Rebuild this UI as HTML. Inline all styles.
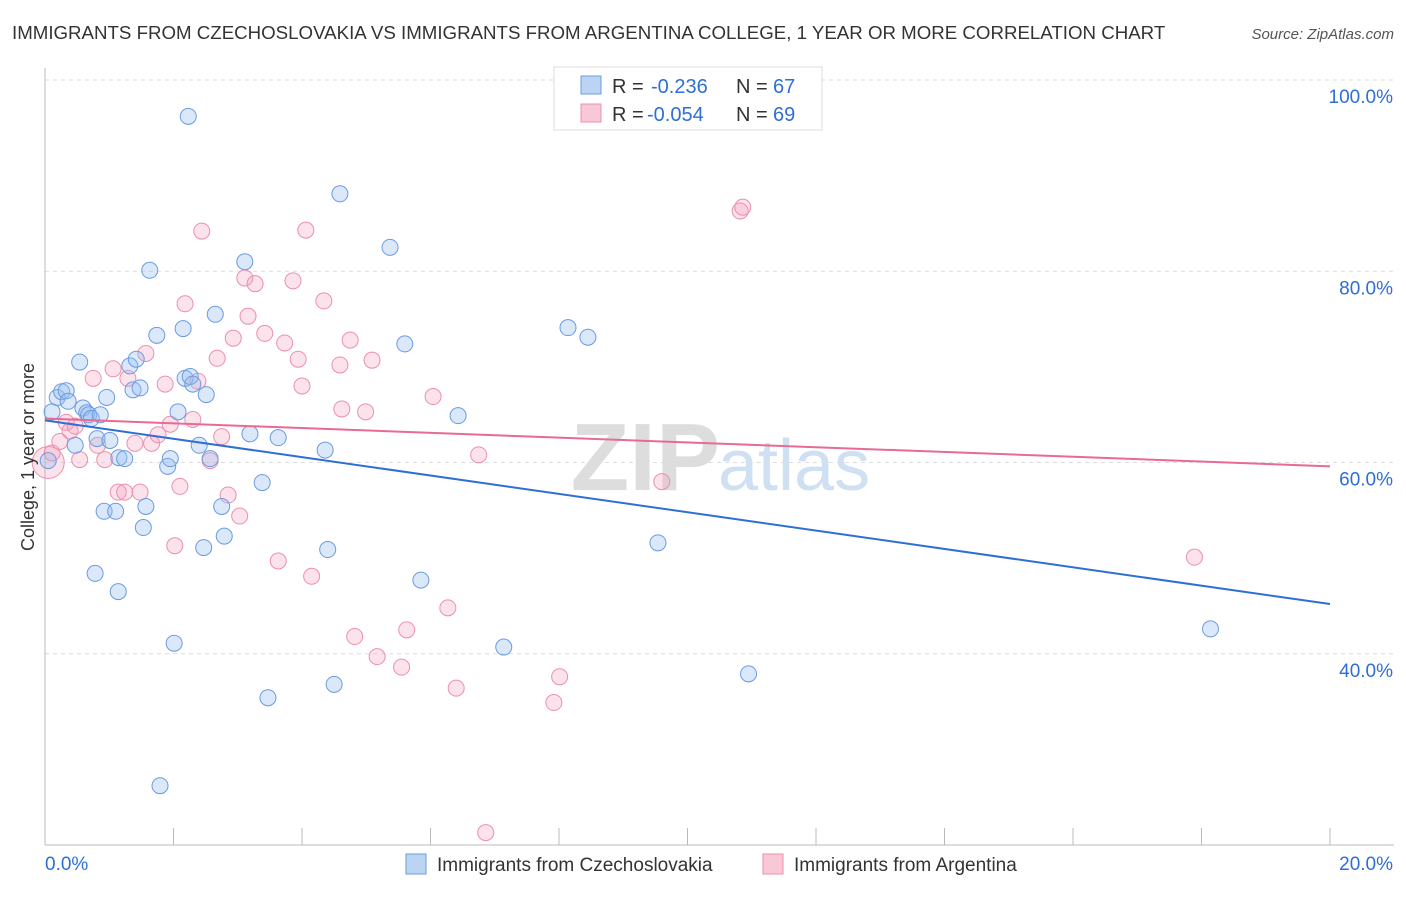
<!DOCTYPE html>
<html><head><meta charset="utf-8"><style>
body{margin:0;background:#fff;font-family:"Liberation Sans",sans-serif;}
svg text{font-family:"Liberation Sans",sans-serif;}
</style></head><body>
<svg id="c" width="1406" height="892">
<text x="12" y="39" font-size="18.7" fill="#333">IMMIGRANTS FROM CZECHOSLOVAKIA VS IMMIGRANTS FROM ARGENTINA COLLEGE, 1 YEAR OR MORE CORRELATION CHART</text>
<text x="1394" y="39" font-size="15" fill="#555" text-anchor="end" font-style="italic">Source: ZipAtlas.com</text>
<g id="grid"></g>
<text x="720" y="490" font-size="96" fill="#ddd" text-anchor="end" font-family="Liberation Serif" font-weight="bold">ZIP</text>
<text x="718" y="490" font-size="72" fill="#cfe0f3">atlas</text>
<g id="pts"></g>
<g id="lines"></g>
<text transform="translate(34,457) rotate(-90)" font-size="18" fill="#333" text-anchor="middle">College, 1 year or more</text>
<g>
<rect x="554" y="67" width="268" height="63" fill="#fff" stroke="#ddd"/>
<rect x="581" y="76" width="20" height="18" fill="#bcd4f3" stroke="#6a9be0"/>
<rect x="581" y="104" width="20" height="18" fill="#f9c8d7" stroke="#ec8fae"/>
<text x="612" y="93" font-size="20" fill="#333">R =</text>
<text x="651" y="93" font-size="20" fill="#2e6fd6">-0.236</text>
<text x="736" y="93" font-size="20" fill="#333">N =</text>
<text x="773" y="93" font-size="20" fill="#2e6fd6">67</text>
<text x="612" y="121" font-size="20" fill="#333">R =</text>
<text x="647" y="121" font-size="20" fill="#2e6fd6">-0.054</text>
<text x="736" y="121" font-size="20" fill="#333">N =</text>
<text x="773" y="121" font-size="20" fill="#2e6fd6">69</text>
</g>
<g>
<rect x="406" y="854" width="20" height="20" fill="#bcd4f3" stroke="#6a9be0"/>
<text x="437" y="871" font-size="19" fill="#333">Immigrants from Czechoslovakia</text>
<rect x="763" y="854" width="20" height="20" fill="#f9c8d7" stroke="#ec8fae"/>
<text x="794" y="871" font-size="19" fill="#333">Immigrants from Argentina</text>
</g>
</svg>
<script>
const xTicks=[0,20];
const yTicks=[40,60,80,100];
const blueX=[0.11,0.19,0.26,0.33,0.36,0.47,0.54,0.59,0.65,0.68,0.72,0.81,0.86,0.92,0.96,1.01,1.1,1.15,1.24,0.78,1.14,1.32,1.37,1.42,1.48,1.53,1.57,1.63,1.74,1.91,1.95,2.01,2.07,2.15,2.18,2.23,2.26,2.3,2.4,2.47,2.51,2.57,2.65,2.75,2.79,3.11,3.19,3.38,3.47,3.63,4.36,4.4,4.5,4.59,5.37,5.6,5.85,6.43,7.14,8.14,8.45,9.54,10.95,18.14,1.79,0.05];
const blueY=[65.3,66.8,67.4,67.5,66.4,61.8,70.5,65.7,65.2,65.0,64.6,62.5,65.0,54.9,66.8,62.3,54.9,60.5,60.4,48.4,46.5,70.1,67.6,70.8,67.8,53.2,55.4,80.1,73.3,59.6,60.4,41.1,65.3,74.0,68.8,96.2,69.0,68.2,61.8,51.1,67.1,60.4,75.5,55.4,52.3,81.0,63.0,57.9,35.4,62.6,61.3,50.9,36.8,88.1,82.5,72.4,47.7,64.9,40.7,74.1,73.1,51.6,37.9,42.6,26.2,60.2];
const pinkX=[0.05,0.11,0.23,0.33,0.39,0.47,0.54,0.75,0.82,0.93,1.06,1.14,1.24,1.29,1.4,1.48,1.57,1.66,1.76,1.87,1.95,2.02,2.1,2.18,2.3,2.38,2.44,2.57,2.68,2.75,2.85,2.93,3.03,3.11,3.16,3.27,3.42,3.63,3.73,3.86,3.94,4.0,4.06,4.15,4.34,4.59,4.62,4.75,4.82,4.99,5.09,5.17,5.55,5.63,6.04,6.27,6.4,6.75,6.86,8.01,7.92,8.19,9.6,10.82,10.86,17.89];
const pinkY=[60.0,61.0,62.2,64.2,63.3,63.8,60.3,68.8,61.8,60.3,69.8,56.9,56.9,68.8,62.0,56.9,71.4,62.0,62.9,68.2,64.0,51.3,57.5,76.6,64.5,68.5,84.2,60.2,70.9,62.7,56.6,73.0,54.4,79.3,75.3,78.7,73.5,49.7,72.5,79.0,70.8,68.0,84.3,48.1,76.9,70.2,65.6,72.8,41.8,65.3,70.7,39.7,38.6,42.5,66.9,44.8,36.4,60.8,21.3,37.6,34.9,97.4,58.0,86.3,86.7,50.1];
const bLine=[64.4,45.2], pLine=[64.6,59.6];
const X0=45,X1=1330,Y0=845,Y1=80;
const xs=v=>X0+(X1-X0)*v/20;
const ys=v=>Y0-(Y0-Y1)*(v-20)/80;
const NS='http://www.w3.org/2000/svg';
function mk(t,a,p){const e=document.createElementNS(NS,t);for(const k in a)e.setAttribute(k,a[k]);p.appendChild(e);return e;}
const g=document.getElementById('grid');
yTicks.forEach(v=>{
 const l=mk('line',{x1:X0,x2:1394,y1:ys(v),y2:ys(v),stroke:'#ddd','stroke-dasharray':'4,4'},g);
 
 
 const t=mk('text',{x:1393,y:ys(v)+23,'font-size':19,fill:'#2e6fd6','text-anchor':'end'},g);t.textContent=v.toFixed(1)+'%';
 
 
});
const ax=mk('line',{x1:X0,x2:X0,y1:68,y2:Y0,stroke:'#bbb'},g);


const bx=mk('line',{x1:X0,x2:1394,y1:Y0,y2:Y0,stroke:'#bbb'},g);


for(let i=0;i<=10;i++){const x=X0+(X1-X0)*i/10;const tk=mk('line',{x1:x,x2:x,y1:828,y2:Y0,stroke:'#bbb'},g);
 
 }
xTicks.forEach((v,i)=>{const t=mk('text',{x:i?1393:45,y:870,'font-size':19,fill:'#2e6fd6','text-anchor':i?'end':'start'},g);t.textContent=v.toFixed(1)+'%';
 
 });
const P=document.getElementById('pts');
pinkX.forEach((x,i)=>{const c=mk('circle',{cx:xs(x),cy:ys(pinkY[i]),r:i==0?16:8,fill:'rgba(244,160,190,0.3)',stroke:'#ec8fae','stroke-width':1},P);
 
 });
blueX.forEach((x,i)=>{const c=mk('circle',{cx:xs(x),cy:ys(blueY[i]),r:8,fill:'rgba(150,190,240,0.35)',stroke:'#6a9be0','stroke-width':1},P);
 
 });
const L=document.getElementById('lines');
const bl=mk('line',{x1:xs(0),y1:ys(bLine[0]),x2:xs(20),y2:ys(bLine[1]),stroke:'#2e6fd6','stroke-width':2},L);


const pl=mk('line',{x1:xs(0),y1:ys(pLine[0]),x2:xs(20),y2:ys(pLine[1]),stroke:'#e86a95','stroke-width':2},L);


</script>
</body></html>
